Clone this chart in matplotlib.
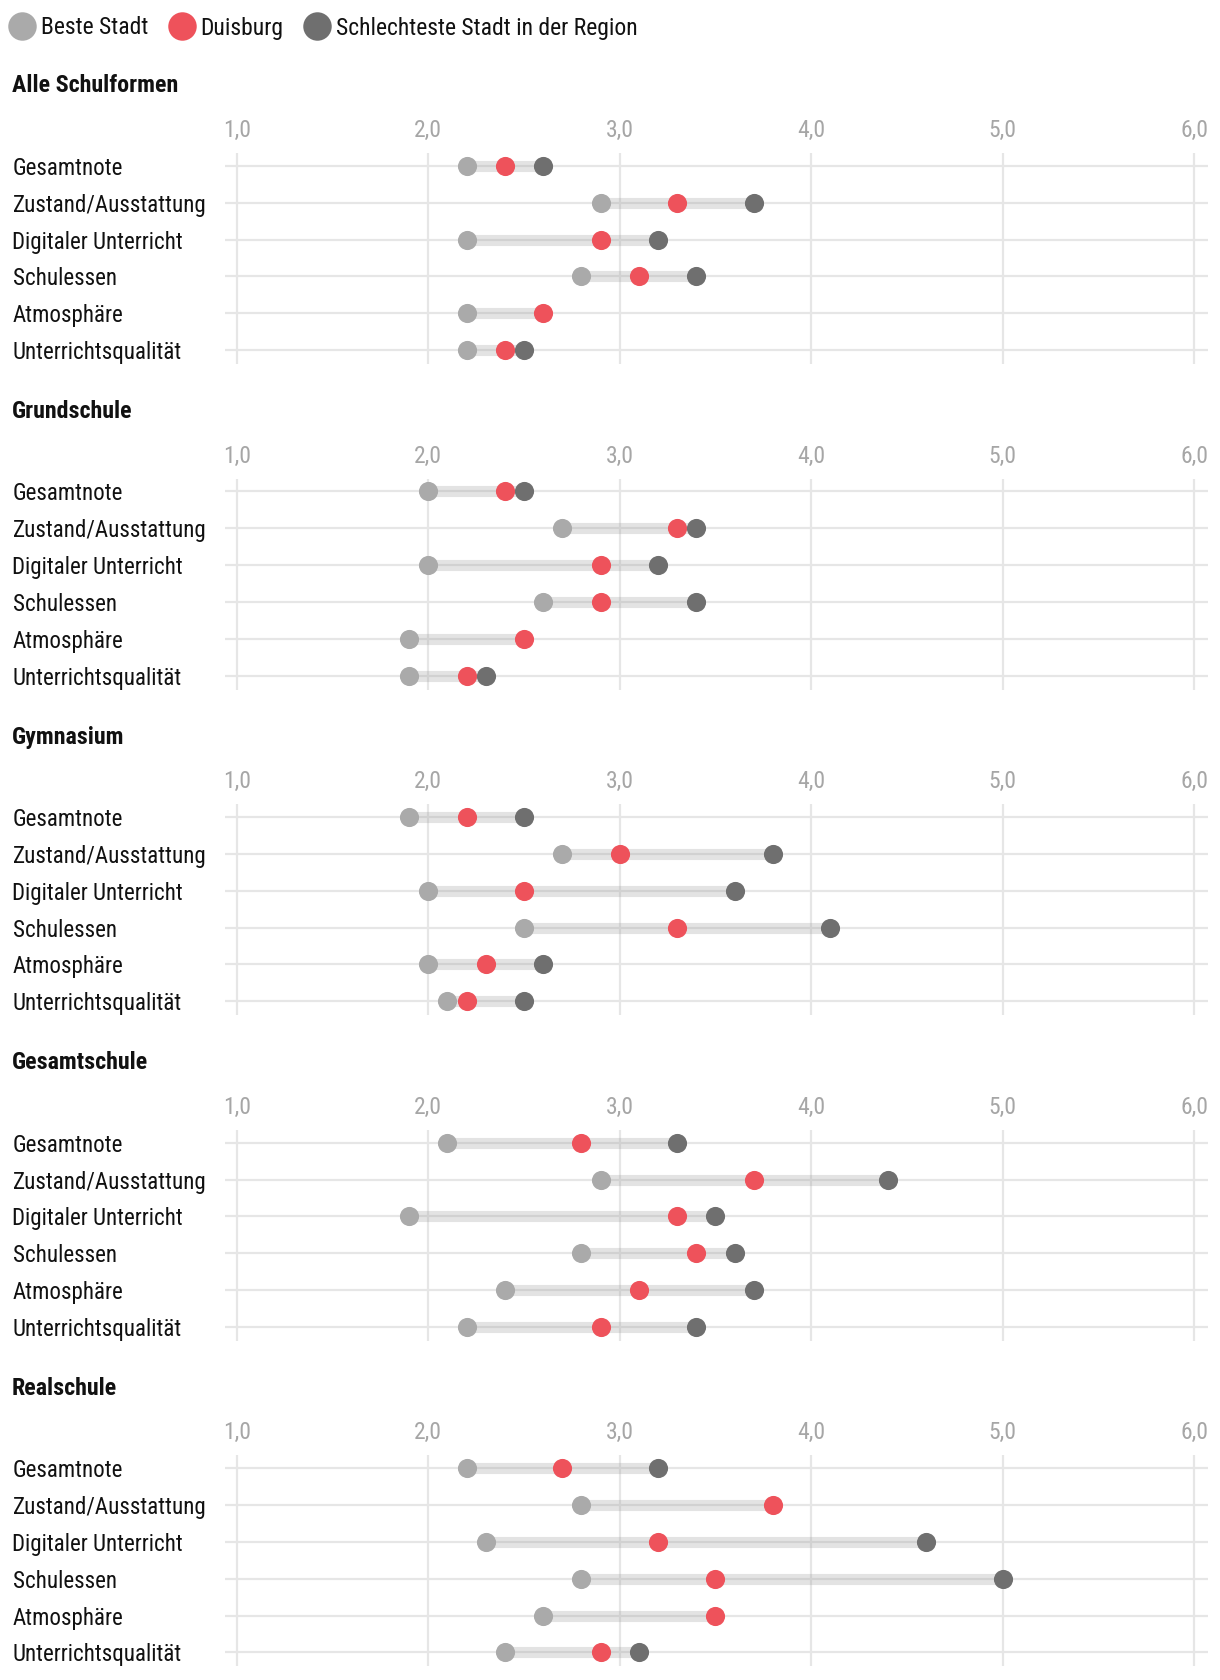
import matplotlib
matplotlib.use("Agg")
from matplotlib import pyplot as plt
from matplotlib.lines import Line2D
import numpy as np

# data: school grades (1 = best), per school type
sections = ["Alle Schulformen", "Grundschule", "Gymnasium", "Gesamtschule", "Realschule"]
categories = ["Gesamtnote", "Zustand/Ausstattung", "Digitaler Unterricht",
              "Schulessen", "Atmosphäre", "Unterrichtsqualität"]
tick_values = [1.0, 2.0, 3.0, 4.0, 5.0, 6.0]
tick_labels = ["1,0", "2,0", "3,0", "4,0", "5,0", "6,0"]

# nan = Duisburg is itself the worst city
best = [
    [2.2, 2.9, 2.2, 2.8, 2.2, 2.2],
    [2.0, 2.7, 2.0, 2.6, 1.9, 1.9],
    [1.9, 2.7, 2.0, 2.5, 2.0, 2.1],
    [2.1, 2.9, 1.9, 2.8, 2.4, 2.2],
    [2.2, 2.8, 2.3, 2.8, 2.6, 2.4],
]
duisburg = [
    [2.4, 3.3, 2.9, 3.1, 2.6, 2.4],
    [2.4, 3.3, 2.9, 2.9, 2.5, 2.2],
    [2.2, 3.0, 2.5, 3.3, 2.3, 2.2],
    [2.8, 3.7, 3.3, 3.4, 3.1, 2.9],
    [2.7, 3.8, 3.2, 3.5, 3.5, 2.9],
]
worst = [
    [2.6, 3.7, 3.2, 3.4, np.nan, 2.5],
    [2.5, 3.4, 3.2, 3.4, np.nan, 2.3],
    [2.5, 3.8, 3.6, 4.1, 2.6, 2.5],
    [3.3, 4.4, 3.5, 3.6, 3.7, 3.4],
    [3.2, np.nan, 4.6, 5.0, np.nan, 3.1],
]

c_best = "#aaaaaa"
c_duis = "#ee525b"
c_worst = "#6f6f6f"
c_grid = "#e6e6e6"

plt.rcParams["font.family"] = ["Roboto Condensed", "DejaVu Sans"]

W, H = 1220, 1680
fig = plt.figure(figsize=(W / 100, H / 100), dpi=100)

# legend
handles = [Line2D([], [], marker="o", ls="none", ms=20.5, mfc=c, mec="none")
           for c in (c_best, c_duis, c_worst)]
fig.legend(handles, ["Beste Stadt", "Duisburg", "Schlechteste Stadt in der Region"],
           loc="center left", bbox_to_anchor=(7 / W, 1 - 28 / H), ncol=3,
           frameon=False, fontsize=17, handletextpad=0.15, columnspacing=0.75,
           handlelength=1.3, borderaxespad=0, borderpad=0, labelcolor="#111111")

step = 325.6
ax_left, ax_right = 225, 1208
for i, name in enumerate(sections):
    top = 153 + i * step
    bottom = 364 + i * step
    ax = fig.add_axes([ax_left / W, 1 - bottom / H, (ax_right - ax_left) / W, (bottom - top) / H])
    fig.text(12 / W, 1 - (86 + i * step) / H, name, fontsize=17.3, fontweight="bold",
             va="center", ha="left", color="#111111")

    y = np.arange(len(categories))
    b = np.array(best[i])
    d = np.array(duisburg[i])
    w = np.array(worst[i])
    hi = np.fmax(d, w)

    ax.hlines(y, b, hi, color="#999999", alpha=0.27, lw=8, zorder=2)
    ax.scatter(b, y, s=190, color=c_best, zorder=3, linewidths=0)
    ax.scatter(d, y, s=190, color=c_duis, zorder=4, linewidths=0)
    ax.scatter(w, y, s=190, color=c_worst, zorder=5, linewidths=0)

    ax.set_xlim(0.938, 6.073)
    ax.set_ylim(5.38, -0.35)
    ax.set_xticks(tick_values, tick_labels)
    ax.set_yticks(y, categories)
    ax.xaxis.set_ticks_position("top")
    ax.tick_params(axis="x", length=0, pad=8, labelsize=17, labelcolor="#a6a6a6")
    ax.tick_params(axis="y", length=0, pad=153, labelsize=16.6, labelcolor="#111111")
    for lab in ax.get_yticklabels():
        lab.set_horizontalalignment("left")
    ax.grid(True, color=c_grid, lw=1.6, zorder=1)
    ax.set_axisbelow(True)
    for sp in ax.spines.values():
        sp.set_visible(False)

fig.savefig("out.png", dpi=100, facecolor="white")
